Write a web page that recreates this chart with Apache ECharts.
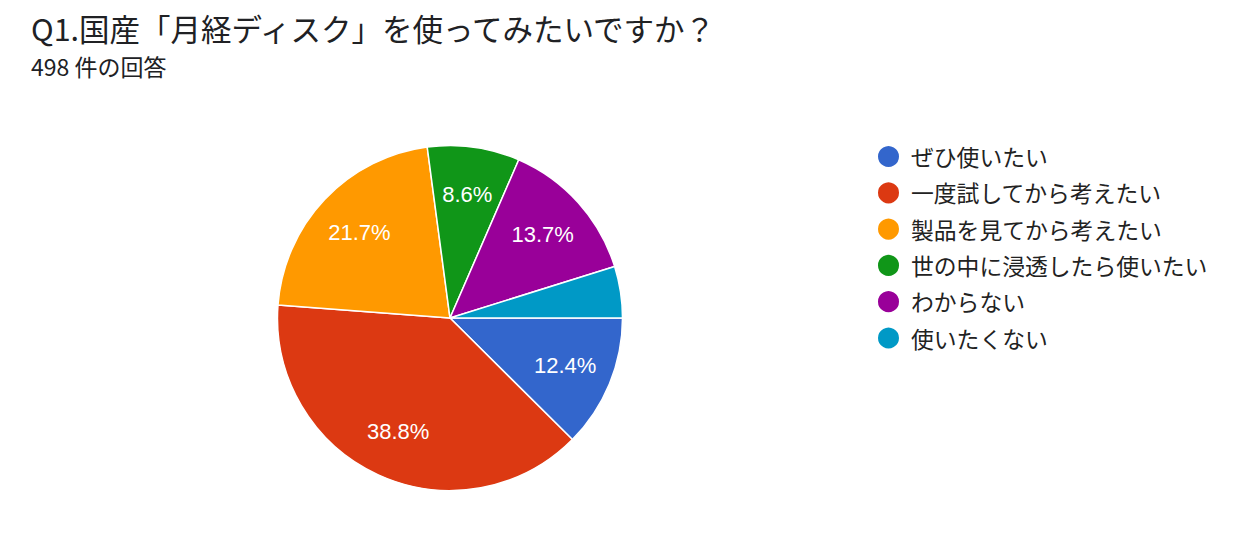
<!DOCTYPE html>
<html>
<head>
<meta charset="utf-8">
<script src="https://cdn.jsdelivr.net/npm/echarts@6/dist/echarts.min.js"></script>
<style>
html,body{margin:0;padding:0;background:#fff;}
#chart{width:1235px;height:535px;}
</style>
</head>
<body>
<div id="chart"></div>
<script>
const titleText = 'Q1.国産「月経ディスク」を使ってみたいですか？';
const subtitleText = '498 件の回答';
const categories = ['ぜひ使いたい', '一度試してから考えたい', '製品を見てから考えたい', '世の中に浸透したら使いたい', 'わからない', '使いたくない'];
const counts = [62, 193, 108, 43, 68, 24];
const colors = ['#3366cc', '#dc3912', '#ff9900', '#109618', '#990099', '#0099c6'];

const total = counts.reduce((a, b) => a + b, 0);
const cjk = '"Noto Sans CJK JP", "Noto Sans", sans-serif';
const R = 172.5;
const center = [450, 318];

const pieData = categories.map((c, i) => ({ name: c, value: counts[i] }));
const labelData = categories.map((c, i) => ({
  name: c,
  value: counts[i],
  label: { show: counts[i] / total >= 0.05 }
}));

const chart = echarts.init(document.getElementById('chart'), null, { renderer: 'svg' });
chart.setOption({
  animation: false,
  color: colors,
  title: [
    { text: titleText, left: 31, top: 10, padding: 0,
      textStyle: { fontFamily: cjk, fontSize: 30.5, lineHeight: 36, fontWeight: 'normal', color: '#202124' } },
    { text: subtitleText, left: 31, top: 53, padding: 0,
      textStyle: { fontFamily: cjk, fontSize: 23, lineHeight: 26, fontWeight: 'normal', color: '#202124' } }
  ],
  legend: {
    orient: 'vertical',
    left: 876,
    top: 144,
    padding: 0,
    icon: 'circle',
    itemWidth: 23,
    itemHeight: 23,
    itemGap: 11.3,
    data: categories,
    textStyle: { fontFamily: cjk, fontSize: 22.8, color: '#222', padding: [0, 0, 0, 6] }
  },
  series: [
    {
      type: 'pie',
      center: center,
      radius: [0, R],
      startAngle: 0,
      clockwise: true,
      silent: true,
      label: { show: false },
      labelLine: { show: false },
      itemStyle: { borderColor: '#fff', borderWidth: 1.5 },
      data: pieData
    },
    {
      type: 'pie',
      center: center,
      radius: [R * 0.41, R],
      startAngle: 0,
      clockwise: true,
      silent: true,
      legendHoverLink: false,
      itemStyle: { color: 'rgba(0,0,0,0)', borderWidth: 0 },
      label: {
        position: 'inside',
        color: '#fff',
        fontSize: 22,
        fontFamily: '"Liberation Sans", Arial, sans-serif',
        formatter: p => (p.value / total * 100).toFixed(1) + '%'
      },
      labelLine: { show: false },
      data: labelData
    }
  ]
});
</script>
</body>
</html>
